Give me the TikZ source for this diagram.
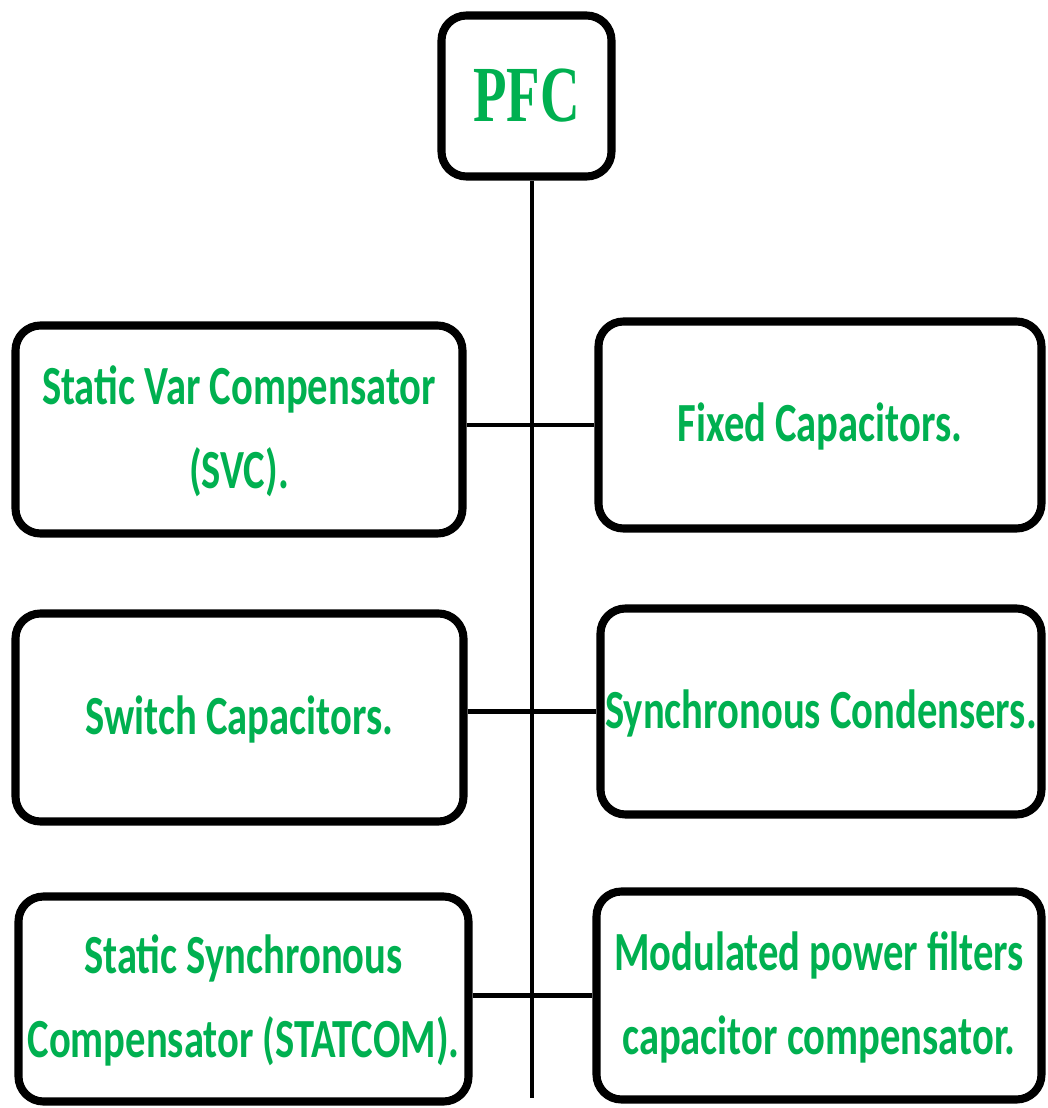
\documentclass[tikz,border=0pt]{standalone}
\usepackage{fontspec}
\usepackage{graphicx}
\setmainfont{Carlito}
\newfontfamily\pfcfont{Liberation Serif}
\definecolor{pfcgreen}{RGB}{0,176,80}
\newcommand{\tall}[1]{\scalebox{1}[1.36]{\begin{tabular}{@{}c@{}}#1\end{tabular}}}
\tikzset{
  blockbox/.style={draw,line width=2.3pt,rounded corners=0.25cm,inner sep=0pt,
    text=pfcgreen,font=\fontsize{11.55}{17.5}\selectfont\bfseries},
  bus/.style={line width=0.9pt},
  link/.style={line width=1.2pt}
}

\begin{document}
\begin{tikzpicture}
    \useasboundingbox (0,0) rectangle (10.47,-11.08);
    % draw the top box
    \node[blockbox,minimum width=1.70cm,minimum height=1.61cm] (pfc) at (5.265,-0.96)
      {\scalebox{1}[1.45]{\pfcfont\fontsize{15.6}{18}\selectfont\bfseries PFC}};
    % draw the left column
    \node[blockbox,minimum width=4.47cm,minimum height=2.08cm] (svc) at (2.39,-4.295)
      {\tall{Static Var Compensator\\(SVC).}};
    \node[blockbox,minimum width=4.48cm,minimum height=2.08cm] (switch) at (2.395,-7.175)
      {\tall{Switch Capacitors.}};
    \node[blockbox,minimum width=4.50cm,minimum height=2.05cm] (statcom) at (2.435,-9.99)
      {\tall{Static Synchronous\\Compensator (STATCOM).}};
    % draw the right column
    \node[blockbox,minimum width=4.43cm,minimum height=2.07cm] (fixed) at (8.20,-4.25)
      {\tall{Fixed Capacitors.}};
    \node[blockbox,minimum width=4.41cm,minimum height=2.06cm] (sync) at (8.21,-7.115)
      {\tall{Synchronous Condensers.}};
    \node[blockbox,minimum width=4.45cm,minimum height=2.08cm] (mpf) at (8.19,-9.955)
      {\tall{Modulated power filters\\capacitor compensator.}};
    % draw the vertical bus
    \coordinate (busend) at (5.32,-10.98);
    \draw[bus] (pfc.south -| busend) -- (busend);
    % draw the horizontal links
    \foreach \l/\r in {svc/fixed, switch/sync, statcom/mpf}
    \draw[link] (\r.west -| \l.east) -- (\r.west);
\end{tikzpicture}
\end{document}
